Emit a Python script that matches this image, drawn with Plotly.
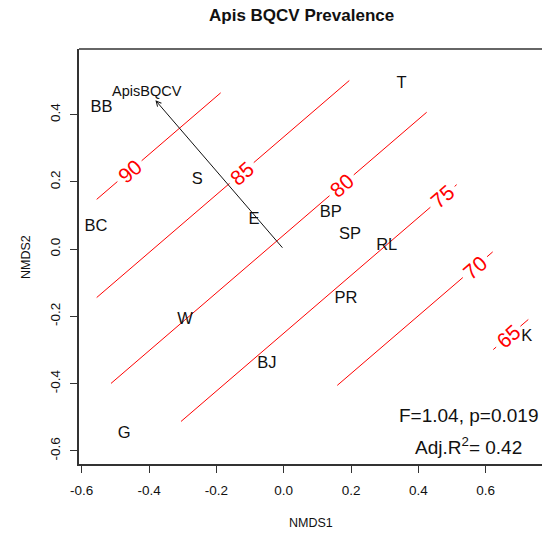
import math
import plotly.graph_objects as go

# NMDS site scores (ordination of sites)
sites = ["BB", "BC", "S", "E", "T", "BP", "SP", "RL", "PR", "W", "BJ", "G", "K"]
nmds1 = [-0.541, -0.558, -0.257, -0.088, 0.350, 0.140, 0.197, 0.306, 0.185, -0.293, -0.050, -0.474, 0.722]
nmds2 = [0.420, 0.065, 0.205, 0.088, 0.493, 0.108, 0.042, 0.009, -0.147, -0.211, -0.340, -0.549, -0.261]

# fitted environmental vector
vec_name = "ApisBQCV"
vec_head = [-0.381, 0.443]
vec_label = [-0.4055, 0.4717]

# fitted (linear) prevalence surface: a + b1*NMDS1 + b2*NMDS2
surf_coef = [79.28, -14.73, 17.12]
levels = [90, 85, 80, 75, 70, 65]
seg_start = [-0.5555, -0.5555, -0.513, -0.305, 0.1591, 0.6224]
seg_end = [-0.1872, 0.1948, 0.4246, 0.5137, 0.6207, 0.7264]
label_at = [-0.458, -0.125, 0.172, 0.4716, 0.568, 0.667]

stats_lines = ["F=1.04, p=0.019", "Adj.R<sup>2</sup>= 0.42"]

xtick_vals = [-0.6, -0.4, -0.2, 0.0, 0.2, 0.4, 0.6]
xtick_text = ["-0.6", "-0.4", "-0.2", "0.0", "0.2", "0.4", "0.6"]
ytick_vals = [-0.6, -0.4, -0.2, 0.0, 0.2, 0.4]
ytick_text = ["-0.6", "-0.4", "-0.2", "0.0", "0.2", "0.4"]

W, H = 542, 535
ML, MR, MT, MB = 79, 0, 49, 71
XR = [-0.608, 0.7671]
YR = [-0.639, 0.5955]
FONT = "Liberation Sans, Arial, sans-serif"
GAP = 0.036  # half-width (NMDS1 units) of the break left for each contour label

plot_w = W - ML - MR
plot_h = H - MT - MB


def px_x(p):
    return (p - ML) / plot_w


def px_y(p):
    return (H - MB - p) / plot_h


def surface_y(level, x):
    a, b1, b2 = surf_coef
    return (level - a - b1 * x) / b2


fig = go.Figure()

# contour lines with breaks for their labels
cx, cy = [], []
for lev, x0, x1, lx in zip(levels, seg_start, seg_end, label_at):
    for xa, xb in ((x0, lx - GAP), (lx + GAP, x1)):
        if xb > xa:
            cx += [xa, xb, None]
            cy += [surface_y(lev, xa), surface_y(lev, xb), None]
fig.add_trace(go.Scatter(x=cx, y=cy, mode="lines",
                         line=dict(color="#ff0000", width=1),
                         hoverinfo="skip", showlegend=False))

# site labels
fig.add_trace(go.Scatter(x=nmds1, y=nmds2, mode="text", text=sites,
                         textposition="middle center",
                         textfont=dict(family=FONT, size=16.5, color="#111111"),
                         showlegend=False))

# angle of the contour lines on screen
sx = plot_w / (XR[1] - XR[0])
sy = plot_h / (YR[1] - YR[0])
slope = -surf_coef[1] / surf_coef[2]
angle = -math.degrees(math.atan(slope * sy / sx))

annotations = []
for lev, lx in zip(levels, label_at):
    annotations.append(dict(x=lx, y=surface_y(lev, lx), xref="x", yref="y",
                            text=str(lev), showarrow=False, textangle=angle,
                            xanchor="center", yanchor="middle",
                            font=dict(family=FONT, size=21, color="#ff0000")))

# vector arrow from the origin
annotations.append(dict(x=vec_head[0], y=vec_head[1], ax=0, ay=0,
                        xref="x", yref="y", axref="x", ayref="y",
                        text="", showarrow=True, arrowhead=5, arrowsize=1,
                        arrowwidth=1, arrowcolor="#111111", standoff=0))
annotations.append(dict(x=vec_label[0], y=vec_label[1], xref="x", yref="y",
                        text=vec_name, showarrow=False,
                        font=dict(family=FONT, size=14.5, color="#111111")))

# statistics
annotations.append(dict(x=px_x(468), y=px_y(415.7), xref="paper", yref="paper",
                        text=stats_lines[0], showarrow=False,
                        xanchor="center", yanchor="middle",
                        font=dict(family=FONT, size=19, color="#111111")))
annotations.append(dict(x=px_x(468), y=px_y(446), xref="paper", yref="paper",
                        text=stats_lines[1], showarrow=False,
                        xanchor="center", yanchor="middle",
                        font=dict(family=FONT, size=19, color="#111111")))

# title and axis titles
annotations.append(dict(x=px_x(301), y=px_y(16), xref="paper", yref="paper",
                        text="<b>Apis BQCV Prevalence</b>", showarrow=False,
                        xanchor="center", yanchor="middle",
                        font=dict(family=FONT, size=17, color="#111111")))
annotations.append(dict(x=px_x(310.5), y=px_y(523), xref="paper", yref="paper",
                        text="NMDS1", showarrow=False,
                        xanchor="center", yanchor="middle",
                        font=dict(family=FONT, size=12.5, color="#111111")))
annotations.append(dict(x=px_x(26), y=px_y(257), xref="paper", yref="paper",
                        text="NMDS2", showarrow=False, textangle=-90,
                        xanchor="center", yanchor="middle",
                        font=dict(family=FONT, size=12.5, color="#111111")))

axis_common = dict(showgrid=False, zeroline=False, showline=True,
                   linecolor="#333333", linewidth=1.6,
                   ticks="outside", ticklen=7, tickwidth=1.4, tickcolor="#333333",
                   tickfont=dict(family=FONT, size=13.5, color="#111111"),
                   mirror=False)

fig.update_layout(
    width=W, height=H,
    margin=dict(l=ML, r=MR, t=MT, b=MB),
    paper_bgcolor="white", plot_bgcolor="white",
    xaxis=dict(range=XR, tickvals=xtick_vals, ticktext=xtick_text,
               ticklabelstandoff=6, **axis_common),
    yaxis=dict(range=YR, tickvals=ytick_vals, ticktext=ytick_text, tickangle=-90,
               ticklabelstandoff=5, **axis_common),
    annotations=annotations,
    shapes=[dict(type="line", xref="paper", yref="paper", x0=0, x1=1, y0=1, y1=1,
                 line=dict(color="#333333", width=1.6))],
    showlegend=False,
)

fig.write_html("out.html")
